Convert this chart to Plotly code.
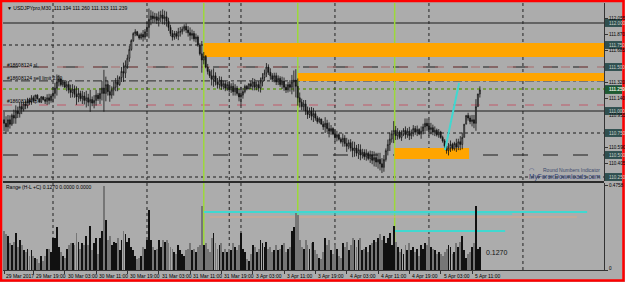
import plotly.graph_objects as go

# ---------------- data ----------------
closes = [
    110.86, 110.82, 110.90, 110.85, 110.95, 110.92, 111.00, 110.97, 111.05, 111.02,
    111.08, 111.06, 111.12, 111.10, 111.15, 111.12, 111.18, 111.14, 111.10, 111.16,
    111.13, 111.11, 111.15, 111.12, 111.17, 111.20, 111.26, 111.33, 111.36, 111.30,
    111.33, 111.27, 111.30, 111.24, 111.21, 111.25, 111.19, 111.16, 111.20, 111.14,
    111.17, 111.12, 111.15, 111.10, 111.13, 111.09, 111.12, 111.18, 111.14, 111.20,
    111.26, 111.20, 111.30, 111.22, 111.18, 111.24, 111.27, 111.33, 111.30, 111.38,
    111.45, 111.43, 111.52, 111.60, 111.70, 111.80, 111.88, 111.90, 111.86, 111.83,
    111.87, 111.84, 111.90, 111.95, 112.04, 112.08, 112.05, 112.07, 112.03, 112.06,
    112.09, 112.05, 112.07, 112.02, 111.95, 111.88, 111.84, 111.88, 111.85, 111.90,
    111.90, 111.93, 111.96, 111.92, 111.89, 111.86, 111.88, 111.82, 111.84, 111.75,
    111.65, 111.58, 111.62, 111.50, 111.45, 111.40, 111.36, 111.40, 111.33, 111.30,
    111.35, 111.28, 111.31, 111.26, 111.30, 111.24, 111.28, 111.22, 111.26, 111.20,
    111.16, 111.18, 111.22, 111.28, 111.25, 111.31, 111.28, 111.33, 111.27, 111.30,
    111.26, 111.33, 111.38, 111.43, 111.50, 111.44, 111.40, 111.36, 111.40, 111.33,
    111.37, 111.30, 111.34, 111.27, 111.24, 111.30, 111.27, 111.33, 111.35, 111.28,
    111.15, 111.10, 111.05, 111.08, 111.00, 110.96, 111.00, 110.94, 110.97, 110.92,
    110.88, 110.91, 110.85, 110.82, 110.86, 110.80, 110.77, 110.80, 110.74, 110.70,
    110.73, 110.68, 110.65, 110.69, 110.63, 110.60, 110.64, 110.58, 110.55, 110.58,
    110.52, 110.56, 110.50, 110.53, 110.48, 110.52, 110.46, 110.50, 110.44, 110.47,
    110.42, 110.45, 110.40, 110.36, 110.45, 110.55, 110.62, 110.68, 110.74, 110.78,
    110.72, 110.76, 110.70, 110.74, 110.78, 110.73, 110.77, 110.72, 110.75, 110.80,
    110.76, 110.79, 110.74, 110.77, 110.82, 110.86, 110.83, 110.79, 110.81, 110.76,
    110.78, 110.73, 110.76, 110.70, 110.66, 110.60, 110.55, 110.58, 110.62, 110.57,
    110.63, 110.59, 110.65, 110.62, 110.70, 110.85, 110.95, 110.92, 110.88, 110.90,
    110.86, 111.05, 111.194, 111.239,
]
ranges = [
    0.22, 0.20, 0.19, 0.15, 0.14, 0.16, 0.21, 0.13, 0.17, 0.14,
    0.11, 0.10, 0.12, 0.08, 0.11, 0.08, 0.07, 0.06, 0.04, 0.08,
    0.05, 0.08, 0.12, 0.12, 0.10, 0.18, 0.18, 0.24, 0.13, 0.10,
    0.08, 0.07, 0.12, 0.14, 0.15, 0.15, 0.14, 0.21, 0.16, 0.12,
    0.15, 0.14, 0.19, 0.14, 0.25, 0.11, 0.15, 0.18, 0.09, 0.18,
    0.22, 0.4758, 0.28, 0.17, 0.19, 0.14, 0.16, 0.15, 0.18, 0.11,
    0.17, 0.22, 0.20, 0.16, 0.18, 0.13, 0.11, 0.08, 0.06, 0.07,
    0.08, 0.13, 0.12, 0.17, 0.34, 0.17, 0.13, 0.11, 0.12, 0.17,
    0.13, 0.17, 0.16, 0.17, 0.15, 0.13, 0.12, 0.10, 0.09, 0.14,
    0.11, 0.09, 0.08, 0.11, 0.12, 0.15, 0.11, 0.12, 0.10, 0.13,
    0.14, 0.36, 0.14, 0.15, 0.12, 0.10, 0.18, 0.21, 0.15, 0.12,
    0.14, 0.15, 0.10, 0.12, 0.10, 0.12, 0.11, 0.15, 0.13, 0.11,
    0.14, 0.21, 0.12, 0.10, 0.06, 0.05, 0.09, 0.14, 0.13, 0.10,
    0.12, 0.17, 0.15, 0.13, 0.16, 0.12, 0.13, 0.10, 0.11, 0.14,
    0.11, 0.12, 0.14, 0.15, 0.10, 0.12, 0.13, 0.22, 0.24, 0.32,
    0.31, 0.17, 0.13, 0.12, 0.17, 0.14, 0.12, 0.15, 0.16, 0.11,
    0.09, 0.07, 0.06, 0.10, 0.18, 0.14, 0.17, 0.11, 0.09, 0.14,
    0.12, 0.08, 0.07, 0.15, 0.13, 0.16, 0.11, 0.14, 0.18, 0.17,
    0.13, 0.17, 0.18, 0.11, 0.12, 0.13, 0.10, 0.14, 0.15, 0.17,
    0.16, 0.18, 0.20, 0.17, 0.19, 0.15, 0.18, 0.21, 0.14, 0.25,
    0.16, 0.13, 0.10, 0.12, 0.09, 0.14, 0.11, 0.15, 0.11, 0.13,
    0.10, 0.12, 0.08, 0.14, 0.12, 0.15, 0.14, 0.18, 0.13, 0.12,
    0.11, 0.09, 0.10, 0.09, 0.08, 0.10, 0.12, 0.14, 0.13, 0.09,
    0.10, 0.15, 0.13, 0.16, 0.19, 0.11, 0.07, 0.09, 0.10, 0.13,
    0.15, 0.36, 0.12, 0.127,
]
first_open = 110.90

tick_idx = [15, 31, 47, 63, 79, 95, 111, 127, 143, 159, 175, 191, 207, 223, 239]
tick_text = ["29 Mar 19:00", "30 Mar 03:00", "30 Mar 11:00", "30 Mar 19:00",
             "31 Mar 03:00", "31 Mar 11:00", "31 Mar 19:00", "3 Apr 03:00",
             "3 Apr 11:00", "3 Apr 19:00", "4 Apr 03:00", "4 Apr 11:00",
             "4 Apr 19:00", "5 Apr 03:00", "5 Apr 11:00"]
first_label = "29 Mar 2017"

price_labels = [112.055, 111.870, 111.685, 111.320, 111.140, 110.955, 110.590, 110.405]
round_levels = [112.000, 111.750, 111.500, 111.250, 111.000, 110.750, 110.500, 110.250]
round_styles = ["solid", "dot", "longdash", "dot", "solid", "dot", "longdash", "dot"]
bid_price = 111.239

day_lines = [25, 73, 121, 169, 217, 265, 115]
lime_lines = [102, 150, 199.5]

# zones: (x start, x end, price low, price high)
zones = [(102, 306.4, 111.613, 111.772), (150, 306.4, 111.341, 111.432), (199.5, 237.5, 110.455, 110.580)]
sl_price, limit_price, tp_price, lime_price = 111.500, 111.342, 111.068, 111.250
trend = (225.2, 110.557, 232.4, 111.318)
# range-panel horizontal lines: (x start, x end, value, colour, width)
range_lines = [(105, 292.6, 0.2985, "#d9a88a", 1), (102, 297.8, 0.3267, "#40d8d0", 2),
               (146, 259.5, 0.3154, "#40d8d0", 1), (199.5, 255.9, 0.2197, "#40d8d0", 2)]

# ---------------- derived OHLC ----------------
n = len(closes)
xs = list(range(n))
opens = [first_open] + closes[:-1]
highs, lows = [], []
for o, c, r in zip(opens, closes, ranges):
    extra = max(r - abs(c - o), 0) / 2
    highs.append(max(o, c) + extra)
    lows.append(min(o, c) - extra)
bar_cols = ["#111111" if c >= o else "#767676" for o, c in zip(opens, closes)]

# ---------------- geometry ----------------
W, H = 625, 282
ML, MR, MT, MB = 3, 21, 3, 12
PW, PH = W - ML - MR, H - MT - MB
def px_x(p):
    return (p - ML) / PW
def px_y(p):
    return (H - MB - p) / PH

YTOP = (110.2045, 112.2273)
Y2 = (0, 0.49)
XR = (-0.536, 306.4)
BG = "#acacac"
FONT = "Liberation Sans"

fig = go.Figure()
fig.add_trace(go.Candlestick(
    x=xs, open=opens, high=highs, low=lows, close=closes,
    increasing=dict(line=dict(color="#111111", width=0.8), fillcolor="#c8c8c8"),
    decreasing=dict(line=dict(color="#111111", width=0.8), fillcolor="#111111"),
    whiskerwidth=0, xaxis="x", yaxis="y", showlegend=False, hoverinfo="skip"))
fig.add_trace(go.Bar(x=xs, y=ranges, marker=dict(color=bar_cols, line=dict(width=0)),
                     width=0.45, xaxis="x2", yaxis="y2", showlegend=False, hoverinfo="skip"))

shapes = []
for x0, x1, lo, hi in zones:
    shapes.append(dict(type="rect", xref="x", yref="y", x0=x0, x1=x1, y0=lo, y1=hi,
                       fillcolor="#ffa500", line=dict(width=0), layer="below"))
for lv, st in zip(round_levels, round_styles):
    shapes.append(dict(type="line", xref="paper", yref="y", x0=0, x1=1, y0=lv, y1=lv,
                       line=dict(color="#1a1a1a", width=1, dash=st), layer="below"))
shapes.append(dict(type="line", xref="paper", yref="y", x0=0, x1=1, y0=lime_price, y1=lime_price,
                   line=dict(color="#8fdc2a", width=1, dash="dot"), layer="below"))
shapes.append(dict(type="line", xref="paper", yref="y", x0=0, x1=1, y0=sl_price, y1=sl_price,
                   line=dict(color="#a86a6a", width=1, dash="dash"), layer="below"))
shapes.append(dict(type="line", xref="paper", yref="y", x0=0, x1=1, y0=limit_price, y1=limit_price,
                   line=dict(color="#2a2a2a", width=1, dash="dashdot"), layer="below"))
shapes.append(dict(type="line", xref="paper", yref="y", x0=0, x1=1, y0=tp_price, y1=tp_price,
                   line=dict(color="#c05a6a", width=1, dash="dash"), layer="below"))
for d in day_lines:
    shapes.append(dict(type="line", xref="x", yref="paper", x0=d, x1=d, y0=0, y1=1,
                       line=dict(color="#222222", width=1, dash="dot"), layer="below"))
for d in lime_lines:
    shapes.append(dict(type="line", xref="x", yref="paper", x0=d, x1=d, y0=0, y1=1,
                       line=dict(color="#9cd83a", width=1.5), layer="below"))
shapes.append(dict(type="line", xref="x", yref="y", x0=trend[0], y0=trend[1], x1=trend[2], y1=trend[3],
                   line=dict(color="#40d8d0", width=2)))
for x0, x1, v, col, wd in range_lines:
    shapes.append(dict(type="line", xref="x", yref="y2", x0=x0, x1=x1, y0=v, y1=v,
                       line=dict(color=col, width=wd), layer="below"))
shapes.append(dict(type="rect", xref="paper", yref="paper", x0=0, x1=1,
                   y0=px_y(183), y1=px_y(181), fillcolor="#2b2b2b", line=dict(width=0)))
for lv in round_levels:
    shapes.append(dict(type="rect", xref="paper", yref="y", x0=px_x(605), x1=px_x(622),
                       y0=lv - 0.045, y1=lv + 0.045, fillcolor="#2f4f4f", line=dict(width=0)))
shapes.append(dict(type="rect", xref="paper", yref="y", x0=px_x(605), x1=px_x(622),
                   y0=bid_price - 0.045, y1=bid_price + 0.045, fillcolor="#1f5a32",
                   line=dict(width=0)))
shapes.append(dict(type="rect", xref="paper", yref="paper", x0=px_x(1), x1=px_x(623.5),
                   y0=px_y(280.5), y1=px_y(1), line=dict(color="#ff0000", width=2.5)))

ann = []
def txt(text, x, y, xref, yref, size=5, color="#000000", xanchor="left", yanchor="middle", **kw):
    ann.append(dict(text=text, x=x, y=y, xref=xref, yref=yref, showarrow=False,
                    xanchor=xanchor, yanchor=yanchor,
                    font=dict(family=FONT, size=size, color=color), **kw))

txt("▼ USDJPYpro,M30  111.194 111.260 111.133 111.239", px_x(5), px_y(8), "paper", "paper")
txt("Range (H-L +C) 0.1270 0.0000 0.0000", px_x(4), px_y(187), "paper", "paper")
txt("#18608124 sl", px_x(5), sl_price, "paper", "y", yshift=2)
txt("#18608124 sell limit 2.00", px_x(5), limit_price, "paper", "y", yshift=3)
txt("#18608124 tp", px_x(5), tp_price, "paper", "y", yshift=4)
txt("0.1270", 245, ranges[-1], "x", "y2", size=7, color="#111111", yshift=-5)
txt("Round Numbers Indicator", px_x(602), px_y(170), "paper", "paper", size=5,
    color="#3c4a6e", xanchor="right")
txt("MyForexDownloads.com", px_x(603), px_y(177.5), "paper", "paper", size=6.5,
    color="#2e3f7a", xanchor="right")
txt("◠", px_x(531), px_y(170), "paper", "paper", size=6, color="#2e3f7a", xanchor="center")
for v in price_labels:
    txt(f"{v:.3f}", px_x(607), v, "paper", "y", size=4.6, yshift=-1 if v == 110.955 else 0)
for v in round_levels:
    txt(f"{v:.3f}", px_x(607), v, "paper", "y", size=4.6, color="#c9d2cc")
txt(f"{bid_price:.3f}", px_x(607), bid_price, "paper", "y", size=4.6, color="#d8e8d8")
txt("0.4758", px_x(607), 0.4758, "paper", "y2", size=4.6)
txt("0", px_x(607), 0, "paper", "y2", size=4.6, yshift=2)
txt(first_label, 0, px_y(276), "x", "paper", size=5, xshift=0)
for i, t in zip(tick_idx, tick_text):
    txt(t, i, px_y(276), "x", "paper", size=5, xshift=1)

fig.update_layout(
    width=W, height=H, autosize=False,
    margin=dict(l=ML, r=MR, t=MT, b=MB, pad=0),
    paper_bgcolor=BG, plot_bgcolor=BG,
    showlegend=False, bargap=0,
    shapes=shapes, annotations=ann,
    xaxis=dict(domain=[0, 1], range=list(XR), anchor="y", showgrid=False, zeroline=False,
               showticklabels=False, ticks="", rangeslider=dict(visible=False), fixedrange=True),
    yaxis=dict(domain=[px_y(181), 1], range=list(YTOP), side="right", anchor="x",
               showgrid=False, zeroline=False, showticklabels=False, ticks="outside",
               ticklen=3, tickcolor="#333333", tickvals=price_labels + round_levels,
               showline=True, linecolor="#333333", linewidth=1),
    xaxis2=dict(domain=[0, 1], range=list(XR), anchor="y2", matches="x", showgrid=False,
                zeroline=False, showticklabels=False, ticks="outside", ticklen=3,
                tickcolor="#333333", tickvals=[0] + tick_idx,
                showline=True, linecolor="#333333", linewidth=1),
    yaxis2=dict(domain=[0, px_y(183)], range=list(Y2), side="right", anchor="x2",
                showgrid=False, zeroline=False, showticklabels=False, ticks="outside",
                ticklen=3, tickcolor="#333333", tickvals=[0, 0.4758],
                showline=True, linecolor="#333333", linewidth=1),
)
fig.write_html("out.html")
